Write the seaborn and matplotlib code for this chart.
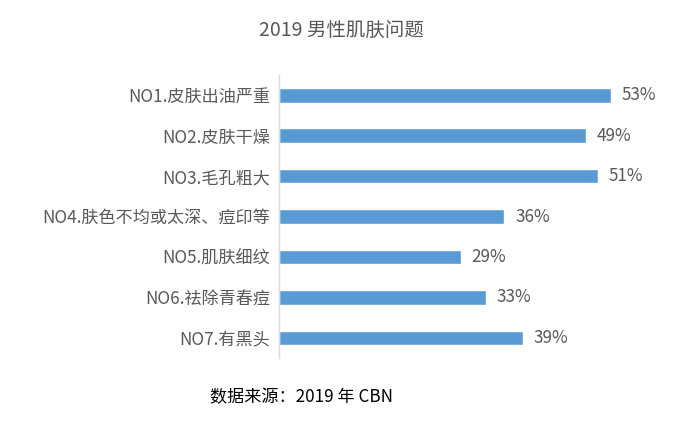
import pandas as pd
import seaborn as sns
import matplotlib.pyplot as plt
import numpy as np

# 数据
categories = ["NO1.皮肤出油严重", "NO2.皮肤干燥", "NO3.毛孔粗大", "NO4.肤色不均或太深、痘印等",
              "NO5.肌肤细纹", "NO6.祛除青春痘", "NO7.有黑头"]
values = [53, 49, 51, 36, 29, 33, 39]

df = pd.DataFrame({"问题": categories, "比例": values})

sns.set_style("white")
plt.rcParams['font.family'] = ['Noto Sans CJK SC', 'DejaVu Sans']

fig = plt.figure(figsize=(6.82, 4.47), dpi=100)
ax = fig.add_axes([0.409, 0.199, 0.551, 0.633])

sns.barplot(data=df, x="比例", y="问题", color="#5B9BD5", width=0.36,
            saturation=1, ax=ax)

ax.set_xlim(0, 60)
ax.set_ylim(6.5, -0.5)
ax.set_xlabel("")
ax.set_ylabel("")
ax.set_xticks([])
ax.tick_params(axis="y", length=0, labelsize=12.3, labelcolor="#595959", pad=6.5)
ax.set_yticks(np.arange(-0.5, 7, 1), minor=True)
ax.tick_params(axis="y", which="minor", length=5, color="#d9d9d9", width=1)

for s in ["top", "right", "bottom"]:
    ax.spines[s].set_visible(False)
ax.spines["left"].set_color("#d9d9d9")
ax.spines["left"].set_linewidth(1)

for i, v in enumerate(values):
    ax.text(v + 1.7, i, f"{v}%", va="center", ha="left", fontsize=12.3, color="#595959")

fig.text(0.5, 0.932, "2019 男性肌肤问题", ha="center", va="center", fontsize=14, color="#595959")
fig.text(0.442, 0.112, "数据来源：2019 年 CBN", ha="center", va="center", fontsize=12.3, color="black")

fig.savefig("out.png", dpi=100)
